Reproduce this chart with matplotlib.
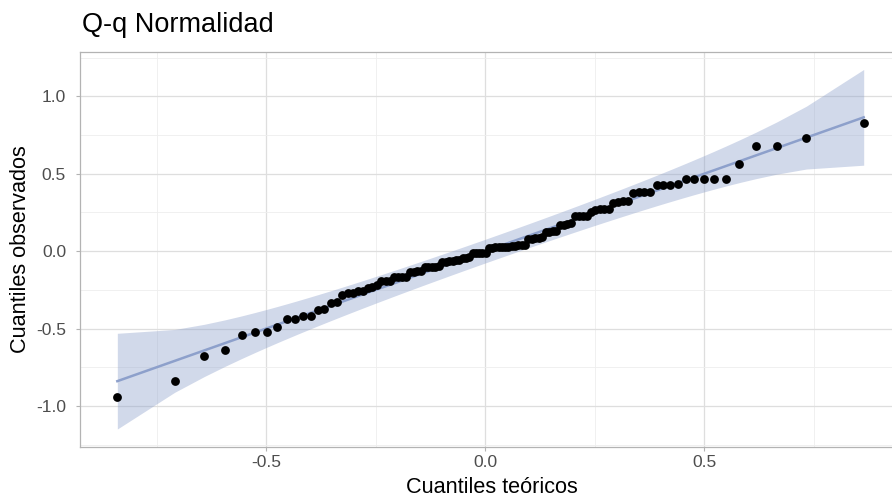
import numpy as np
import matplotlib
matplotlib.use("Agg")
import matplotlib.pyplot as plt
from statistics import NormalDist

observados = [
    -0.94, -0.84, -0.68, -0.64, -0.54, -0.525, -0.525, -0.49, -0.44, -0.44,
    -0.42, -0.42, -0.38, -0.375, -0.335, -0.33, -0.285, -0.27, -0.27, -0.26,
    -0.26, -0.24, -0.23, -0.22, -0.19, -0.19, -0.19, -0.17, -0.17, -0.165,
    -0.165, -0.135, -0.135, -0.13, -0.13, -0.10, -0.10, -0.10, -0.10, -0.095,
    -0.07, -0.07, -0.065, -0.065, -0.06, -0.06, -0.045, -0.045, -0.04, -0.015,
    -0.015, -0.015, -0.01, -0.01, 0.02, 0.02, 0.025, 0.025, 0.03, 0.03,
    0.03, 0.035, 0.035, 0.04, 0.04, 0.04, 0.08, 0.08, 0.085, 0.085,
    0.09, 0.125, 0.125, 0.13, 0.13, 0.17, 0.17, 0.175, 0.18, 0.225,
    0.225, 0.23, 0.23, 0.25, 0.265, 0.27, 0.27, 0.275, 0.31, 0.32,
    0.325, 0.325, 0.375, 0.38, 0.38, 0.385, 0.425, 0.43, 0.43, 0.435,
    0.465, 0.465, 0.465, 0.465, 0.465, 0.565, 0.68, 0.68, 0.73, 0.83,
]
titulo = "Q-q Normalidad"
etiqueta_x = "Cuantiles teóricos"
etiqueta_y = "Cuantiles observados"
ticks_x = [-0.5, 0.0, 0.5]
ticks_y = [-1.0, -0.5, 0.0, 0.5, 1.0]

plt.rcParams['font.family'] = ['Liberation Sans', 'DejaVu Sans']
plt.rcParams['axes.unicode_minus'] = False

# qq stat: normal with estimated mean / sd, identity line, pointwise 95% band
y = np.sort(np.array(observados))
n = len(y)
dist = NormalDist(y.mean(), y.std())
p = (np.arange(1, n + 1) - 0.5) / n
x = np.array([dist.inv_cdf(v) for v in p])
fit = x.copy()
dens = np.array([dist.pdf(v) for v in x])
se = 1.0 / dens * np.sqrt(p * (1 - p) / n)
zz = NormalDist().inv_cdf(0.975)

fig = plt.figure(figsize=(8.92, 5.0), dpi=100)
ax = fig.add_axes([0.0897, 0.106, 0.9204, 0.791])

ax.fill_between(x, fit - zz * se, fit + zz * se, color='#8DA0CB', alpha=0.4,
                linewidth=0, zorder=2)
ax.plot(x, fit, color='#8DA0CB', lw=1.8, zorder=3)
ax.scatter(x, y, s=40, color='black', linewidths=0, zorder=4)

ax.margins(0.05)
ax.set_xticks(ticks_x)
ax.set_xticklabels([f"{v:.1f}" for v in ticks_x])
ax.set_yticks(ticks_y)
ax.set_yticklabels([f"{v:.1f}" for v in ticks_y])
ax.set_xticks([-0.75, -0.25, 0.25, 0.75], minor=True)
ax.set_yticks([-1.25, -0.75, -0.25, 0.25, 0.75, 1.25], minor=True)
ax.grid(which='major', color='#DEDEDE', lw=0.9)
ax.grid(which='minor', color='#EEEEEE', lw=0.6)
ax.set_axisbelow(True)
ax.tick_params(which='major', length=3, width=0.8, color='#B3B3B3',
               labelsize=12.5, labelcolor='#4D4D4D')
ax.tick_params(axis='x', pad=3)
ax.tick_params(axis='y', pad=7)
ax.tick_params(which='minor', length=0)
for sp in ax.spines.values():
    sp.set_color('#B3B3B3')
    sp.set_linewidth(0.9)

fig.text(82 / 892, 1 - 32 / 500, titulo, fontsize=19.5, va='baseline', ha='left')
fig.text(492 / 892, 1 - 493 / 500, etiqueta_x, fontsize=15.6, va='baseline', ha='center')
fig.text(21 / 892, 1 - 249 / 500, etiqueta_y, fontsize=15.6, va='center', ha='center',
         rotation=90)

fig.savefig("out.png", dpi=100)
